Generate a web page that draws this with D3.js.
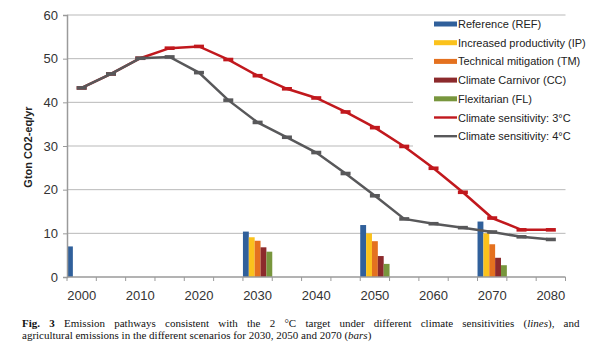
<!DOCTYPE html>
<html>
<head>
<meta charset="utf-8">
<script src="https://cdn.jsdelivr.net/npm/d3@7"></script>
<style>
  body { margin: 0; background: #fff; }
  svg { display: block; }
</style>
</head>
<body>
<script>
// categories (5-year steps) and tick labels
const years = ["2000","2005","2010","2015","2020","2025","2030","2035","2040","2045","2050","2055","2060","2065","2070","2075","2080"];
const tickYears = ["2000","2010","2020","2030","2040","2050","2060","2070","2080"];
const yTicks = [0, 10, 20, 30, 40, 50, 60];

// lines: climate sensitivity pathways
const sens3 = [43.3, 46.5, 50.1, 52.4, 52.8, 49.8, 46.1, 43.1, 41.0, 37.8, 34.2, 29.9, 24.9, 19.4, 13.5, 10.8, 10.8];
const sens4 = [43.3, 46.5, 50.1, 50.4, 46.8, 40.5, 35.4, 32.0, 28.5, 23.7, 18.6, 13.3, 12.2, 11.3, 10.3, 9.2, 8.6];

// bars: agricultural emissions per scenario
const barYears = ["2000", "2030", "2050", "2070"];
const scenarios = ["Reference (REF)", "Increased productivity (IP)", "Technical mitigation (TM)", "Climate Carnivor (CC)", "Flexitarian (FL)"];
const refVals = [7.0, 10.4, 11.9, 12.7];
const ipVals = [null, 9.1, 10.0, 10.0];
const tmVals = [null, 8.3, 8.2, 7.5];
const ccVals = [null, 6.8, 4.8, 4.4];
const flVals = [null, 5.8, 3.0, 2.7];

const lineNames = ["Climate sensitivity: 3°C", "Climate sensitivity: 4°C"];
const barColors = ["#30609b", "#fbc21c", "#e4711f", "#8c2a2c", "#78963d"];
const lineColors = ["#c1181d", "#58585a"];

const W = 596, H = 351;
const svg = d3.select("body").append("svg").attr("width", W).attr("height", H);

const x = d3.scaleBand().domain(years).range([67, 565.5]).padding(0);
const y = d3.scaleLinear().domain([0, 60]).range([277, 15]);
const xs = d3.scaleBand().domain(scenarios).range([0, x.bandwidth()]).padding(0);

// gridlines
svg.append("g").selectAll("line")
  .data(yTicks.filter(d => d > 0)).enter()
  .append("line")
  .attr("x1", 67).attr("x2", 565.5)
  .attr("y1", d => y(d)).attr("y2", d => y(d))
  .attr("stroke", "#b9b9b9").attr("stroke-width", 1);

// bars
const barSeries = [refVals, ipVals, tmVals, ccVals, flVals];
const barData = [];
barSeries.forEach((vals, si) => {
  vals.forEach((v, i) => {
    if (v != null) barData.push({year: barYears[i], s: scenarios[si], si: si, v: v});
  });
});
svg.append("g").selectAll("rect")
  .data(barData).enter()
  .append("rect")
  .attr("x", d => x(d.year) + xs(d.s))
  .attr("width", xs.bandwidth())
  .attr("y", d => y(d.v))
  .attr("height", d => y(0) - y(d.v))
  .attr("fill", d => barColors[d.si]);

// axes
const yAxis = d3.axisLeft(y).tickValues(yTicks).tickSize(4).tickPadding(5);
const gy = svg.append("g").attr("transform", "translate(67,0)").call(yAxis);
gy.select(".domain").attr("stroke", "#9a9a9a").attr("stroke-width", 1.5);
gy.selectAll(".tick line").attr("stroke", "#9a9a9a");
gy.selectAll("text").attr("font-family", "Liberation Sans, Arial, sans-serif").attr("font-size", 13).attr("fill", "#333");

const gx = svg.append("g").attr("transform", "translate(0,277)");
gx.append("line").attr("x1", 67).attr("x2", 565.5).attr("y1", 0).attr("y2", 0)
  .attr("stroke", "#9a9a9a").attr("stroke-width", 1.5);
const bounds = years.map(d => x(d)).concat([x(years[years.length - 1]) + x.bandwidth()]);
gx.selectAll("line.tk").data(bounds).enter()
  .append("line").attr("class", "tk")
  .attr("x1", d => d).attr("x2", d => d).attr("y1", 0).attr("y2", 4)
  .attr("stroke", "#9a9a9a");
gx.selectAll("text").data(tickYears).enter()
  .append("text")
  .attr("x", d => x(d) + x.bandwidth() / 2)
  .attr("y", 23)
  .attr("text-anchor", "middle")
  .attr("font-family", "Liberation Sans, Arial, sans-serif")
  .attr("font-size", 13).attr("fill", "#333")
  .text(d => d);

// y axis title
svg.append("text")
  .attr("transform", "translate(32,147) rotate(-90)")
  .attr("text-anchor", "middle")
  .attr("font-family", "Liberation Sans, Arial, sans-serif")
  .attr("font-size", 11).attr("font-weight", "bold").attr("fill", "#222")
  .text("Gton CO2-eq/yr");

// lines
const line = d3.line()
  .x((d, i) => x(years[i]) + x.bandwidth() / 2)
  .y(d => y(d));
[sens3, sens4].forEach((vals, li) => {
  const g = svg.append("g");
  g.append("path")
    .attr("d", line(vals))
    .attr("fill", "none")
    .attr("stroke", lineColors[li]).attr("stroke-width", 2.5);
  g.selectAll("rect").data(vals).enter()
    .append("rect")
    .attr("x", (d, i) => x(years[i]) + x.bandwidth() / 2 - 5)
    .attr("y", d => y(d) - 1.8)
    .attr("width", 10).attr("height", 3.6)
    .attr("fill", lineColors[li]);
});

// legend
const lg = svg.append("g");
lg.append("rect").attr("x", 413).attr("y", 17).attr("width", 183).attr("height", 131).attr("fill", "#fff");
const legendItems = scenarios.map((s, i) => ({name: s, color: barColors[i], type: "bar"}))
  .concat(lineNames.map((s, i) => ({name: s, color: lineColors[i], type: "line"})));
const li = lg.selectAll("g").data(legendItems).enter().append("g")
  .attr("transform", (d, i) => `translate(434,${24 + i * 18.7})`);
li.append("rect")
  .attr("x", 0).attr("width", 23)
  .attr("y", d => d.type === "bar" ? -2.5 : -1.2)
  .attr("height", d => d.type === "bar" ? 5 : 2.4)
  .attr("fill", d => d.color);
li.append("text")
  .attr("x", 24).attr("y", 4)
  .attr("font-family", "Liberation Sans, Arial, sans-serif")
  .attr("font-size", 11).attr("fill", "#222")
  .text(d => d.name);

// caption
const cap = svg.append("g").attr("font-family", "Liberation Serif, Times New Roman, serif")
  .attr("font-size", 11).attr("fill", "#111");
const l1 = cap.append("text").attr("x", 22).attr("y", 327);
l1.append("tspan").attr("font-weight", "bold").text("Fig. 3");
l1.append("tspan").text("  Emission pathways consistent with the 2 °C target under different climate sensitivities (");
l1.append("tspan").attr("font-style", "italic").text("lines");
l1.append("tspan").text("), and");
const w1 = l1.node().getComputedTextLength();
const spaces = (l1.text().match(/ /g) || []).length;
l1.attr("word-spacing", (586 - 22 - w1) / spaces);
const l2 = cap.append("text").attr("x", 22).attr("y", 339);
l2.append("tspan").text("agricultural emissions in the different scenarios for 2030, 2050 and 2070 (");
l2.append("tspan").attr("font-style", "italic").text("bars");
l2.append("tspan").text(")");
</script>
</body>
</html>
